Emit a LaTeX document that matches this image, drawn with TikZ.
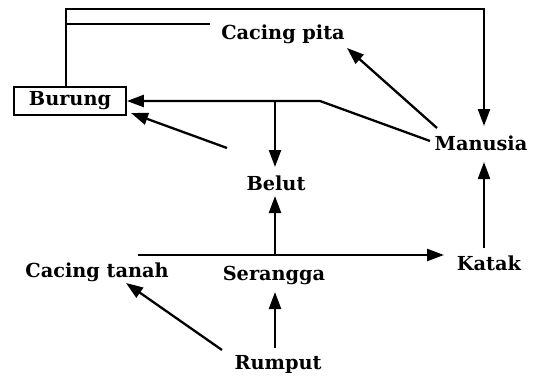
\documentclass[tikz,border=0pt]{standalone}
\usepackage{fontspec}
\setmainfont{DejaVu Serif}
\usetikzlibrary{arrows.meta}
\begin{document}
\begin{tikzpicture}[x=1pt,y=-1pt,
  lbl/.style={font=\bfseries\fontsize{19.3}{22}\selectfont, inner sep=1pt},
  link/.style={line width=2.3pt, line join=miter},
  arr/.style={link, -{Triangle[length=17pt,width=12pt]}}]
  \useasboundingbox (0,0) rectangle (542,378);

  % organisms
  \node[lbl, draw, line width=1.8pt, minimum width=112pt, minimum height=28pt] (burung) at (70,101) {Burung};
  \node[lbl] (pita) at (283,34) {Cacing pita};
  \node[lbl] (manusia) at (481,143) {Manusia};
  \node[lbl] (belut) at (276,183) {Belut};
  \node[lbl] (katak) at (489,263) {Katak};
  \node[lbl] (tanah) at (97,272) {Cacing tanah};
  \node[lbl] (serangga) at (274,275) {Serangga};
  \node[lbl] (rumput) at (278,364) {Rumput};

  % junction points
  \coordinate (tl) at (66,9);
  \coordinate (tr) at (484,9);
  \coordinate (mid) at (66,24);
  \coordinate (pitaend) at (210,24);
  \coordinate (bend) at (320,101);
  \coordinate (fork) at (275,101);
  \coordinate (mfrom) at (430,141);
  \coordinate (lowstart) at (138,255);
  \coordinate (lowfork) at (275,255);
  \coordinate (stub) at (227,148);

  % top loop from Burung to Manusia
  \draw[arr] (burung.north -| tl) -- (tl) -- (tr) -- (484,126);
  \draw[link] (mid) -- (pitaend);

  % Manusia -> Cacing pita
  \draw[arr] (437,128) -- (347,48);

  % Manusia -> Burung and Belut
  \draw[arr] (mfrom) -- (bend) -- (burung.east);
  \draw[arr] (fork) -- (275,167);
  \draw[arr] (stub) -- (131,113);

  % Katak -> Manusia
  \draw[arr] (484,248) -- (484,162);

  % lower line to Katak, branch up to Belut
  \draw[arr] (lowstart) -- (444,255);
  \draw[arr] (lowfork) -- (275,196);

  % Rumput -> Serangga and Cacing tanah
  \draw[arr] (275,348) -- (275,292);
  \draw[arr] (222,350) -- (126,283);
\end{tikzpicture}
\end{document}
